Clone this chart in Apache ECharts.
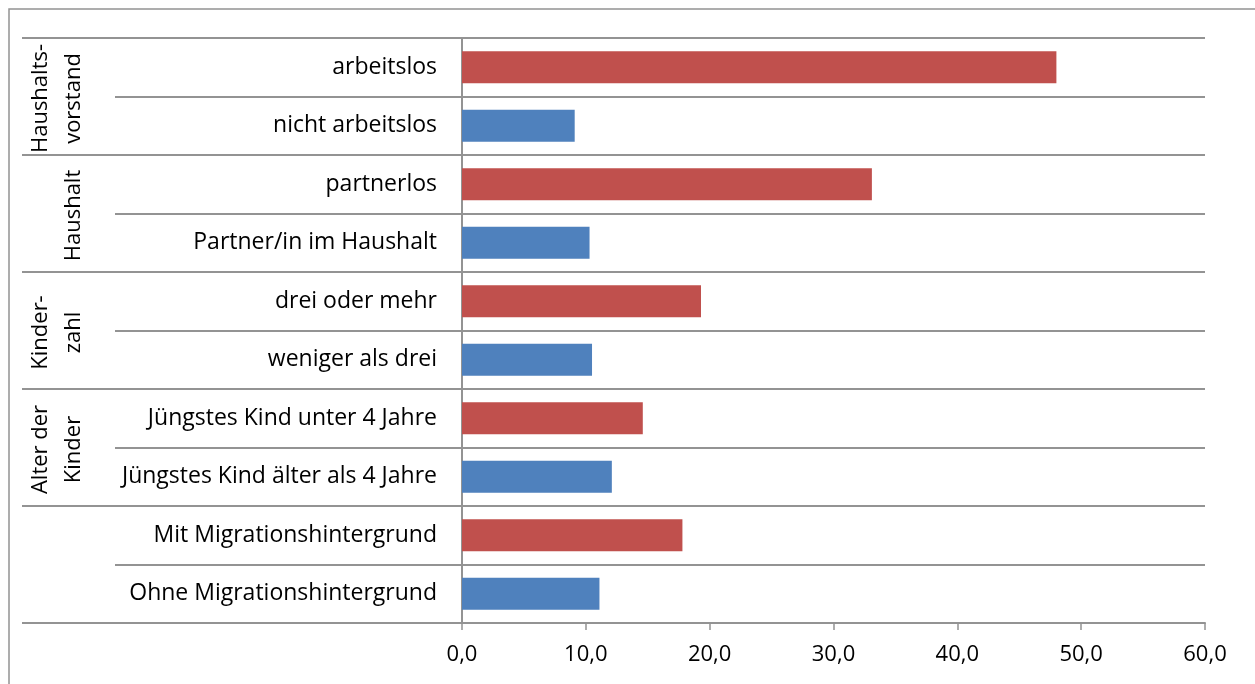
<!DOCTYPE html>
<html>
<head>
<meta charset="utf-8">
<script src="https://cdn.jsdelivr.net/npm/echarts@6/dist/echarts.min.js"></script>
<style>
  html, body { margin: 0; padding: 0; background: #fff; }
  #chart { width: 1255px; height: 684px; }
</style>
</head>
<body>
<div id="chart"></div>
<script>
// Kategorien (von oben nach unten)
var categories = [
  'arbeitslos',
  'nicht arbeitslos',
  'partnerlos',
  'Partner/in im Haushalt',
  'drei oder mehr',
  'weniger als drei',
  'Jüngstes Kind unter 4 Jahre',
  'Jüngstes Kind älter als 4 Jahre',
  'Mit Migrationshintergrund',
  'Ohne Migrationshintergrund'
];
var values = [48.0, 9.1, 33.1, 10.3, 19.3, 10.5, 14.6, 12.1, 17.8, 11.1];

// Gruppen (je zwei Kategorien), Beschriftung in zwei Zeilen
var groups = ['g1', 'g2', 'g3', 'g4', 'g5'];
var groupLine1 = ['Haushalts-', '', 'Kinder-', 'Alter der', ''];
var groupLine2 = ['vorstand', 'Haushalt', 'zahl', 'Kinder', ''];

var xTicks = [0, 10, 20, 30, 40, 50, 60];

var lineColor = '#939393';
var font = 'Open Sans';

var chart = echarts.init(document.getElementById('chart'));

var option = {
  animation: false,
  grid: [
    { left: 462, right: 50, top: 38, bottom: 61 },   // Balken
    { left: 22, width: 440, top: 38, bottom: 61 },   // Gruppenlinien
    { left: 115, width: 347, top: 38, bottom: 61 }   // Kategorienlinien
  ],
  xAxis: [
    {
      gridIndex: 0,
      type: 'value',
      min: xTicks[0],
      max: xTicks[xTicks.length - 1],
      interval: 10,
      axisLine: { show: true, lineStyle: { color: lineColor, width: 2 } },
      axisTick: { show: true, length: 7, lineStyle: { color: lineColor, width: 1.5 } },
      splitLine: { show: false },
      axisLabel: {
        margin: 21,
        color: '#000',
        fontFamily: font,
        fontSize: 22,
        formatter: function (v) { return v.toFixed(1).replace('.', ','); }
      }
    },
    { gridIndex: 1, type: 'value', min: 0, max: 1, show: false },
    { gridIndex: 2, type: 'value', min: 0, max: 1, show: false }
  ],
  yAxis: [
    {
      gridIndex: 0,
      type: 'category',
      inverse: true,
      data: categories,
      axisLine: { show: true, lineStyle: { color: lineColor, width: 2 } },
      axisTick: { show: true, length: 5, lineStyle: { color: lineColor, width: 2 } },
      splitLine: { show: true, lineStyle: { color: lineColor, width: 2 } },
      axisLabel: {
        margin: 25,
        color: '#000',
        fontFamily: font,
        fontSize: 23
      }
    },
    {
      gridIndex: 1,
      type: 'category',
      inverse: true,
      data: groups,
      axisLine: { show: false },
      axisTick: { show: false },
      axisLabel: { show: false },
      splitLine: { show: true, lineStyle: { color: lineColor, width: 2 } }
    },
    {
      gridIndex: 2,
      type: 'category',
      inverse: true,
      data: categories,
      axisLine: { show: false },
      axisTick: { show: false },
      axisLabel: { show: false },
      splitLine: { show: true, lineStyle: { color: lineColor, width: 2 } }
    }
  ],
  series: [
    {
      type: 'bar',
      xAxisIndex: 0,
      yAxisIndex: 0,
      barWidth: 32,
      data: values,
      itemStyle: {
        color: function (p) { return p.dataIndex % 2 === 0 ? '#C0504D' : '#4F81BD'; }
      }
    }
  ]
};

chart.setOption(option);

// Rahmen und gedrehte Gruppenbeschriftungen
var elements = [
  {
    type: 'rect',
    silent: true,
    shape: { x: 9, y: 9, width: 1300, height: 720 },
    style: { fill: 'none', stroke: lineColor, lineWidth: 1.5 }
  }
];
groups.forEach(function (g, i) {
  var cy = chart.convertToPixel({ yAxisIndex: 1 }, g) + 2;
  [[groupLine1[i], 41], [groupLine2[i], 74]].forEach(function (item) {
    if (!item[0]) return;
    elements.push({
      type: 'text',
      silent: true,
      x: item[1],
      y: cy,
      rotation: Math.PI / 2,
      style: {
        text: item[0],
        fontFamily: font,
        fontSize: 22,
        fill: '#000',
        align: 'center',
        verticalAlign: 'middle'
      }
    });
  });
});
chart.setOption({ graphic: { elements: elements } });
</script>
</body>
</html>
